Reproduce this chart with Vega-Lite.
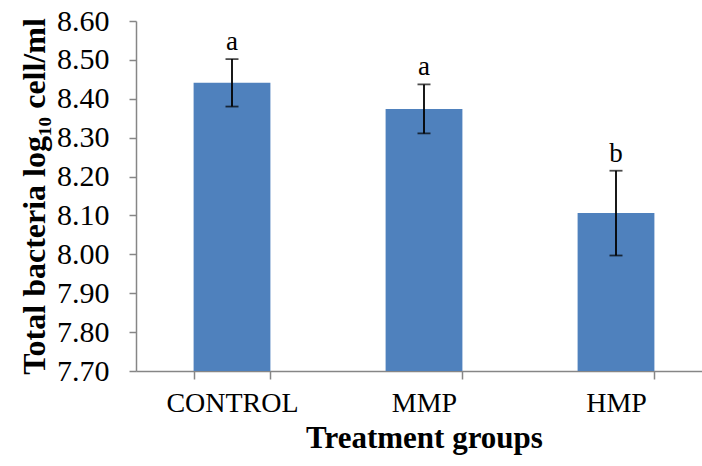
{
  "$schema": "https://vega.github.io/schema/vega-lite/v6.json",
  "autosize": {"type": "none"},
  "width": 566,
  "height": 350,
  "padding": {"left": 136, "top": 21, "right": 0, "bottom": 95},
  "background": "white",
  "config": {
    "font": "Liberation Serif",
    "view": {"stroke": null},
    "axis": {
      "domainColor": "#868686",
      "tickColor": "#868686",
      "labelColor": "#000000",
      "titleColor": "#000000",
      "labelFont": "Liberation Serif",
      "titleFont": "Liberation Serif",
      "grid": false
    },
    "axisY": {
      "labelFont": "Liberation Serif",
      "titleFont": "Liberation Serif",
      "titleFontSize": 32,
      "titleFontWeight": "bold",
      "titlePadding": 5,
      "labelFontSize": 30,
      "labelPadding": 20,
      "labelOverlap": false,
      "labelFlush": false,
      "labelBound": false,
      "tickSize": 7,
      "domainWidth": 1.5,
      "tickWidth": 1.5
    }
  },
  "data": {
    "values": [
      {"group": "CONTROL", "mean": 8.441, "lo": 8.380, "hi": 8.502, "letter": "a"},
      {"group": "MMP", "mean": 8.374, "lo": 8.311, "hi": 8.437, "letter": "a"},
      {"group": "HMP", "mean": 8.106, "lo": 7.997, "hi": 8.215, "letter": "b"}
    ]
  },
  "encoding": {
    "x": {
      "field": "group",
      "type": "nominal",
      "sort": ["CONTROL", "MMP", "HMP"],
      "scale": {"range": [0, 576], "paddingInner": 0.6, "paddingOuter": 0.3},
      "axis": {
        "title": "Treatment groups",
        "titleFontSize": 31,
        "titleFontWeight": "bold",
        "titlePadding": 6,
        "labelFontSize": 28,
        "labelAngle": 0,
        "labelPadding": 10,
        "tickSize": 8,
        "tickBand": "extent",
        "domainWidth": 1.5,
        "tickWidth": 1.5
      }
    }
  },
  "layer": [
    {
      "mark": {"type": "bar", "color": "#4F81BD"},
      "encoding": {
        "y": {
          "field": "mean",
          "type": "quantitative",
          "title": "Total bacteria log₁₀ cell/ml",
          "scale": {"domain": [7.7, 8.6], "zero": false, "nice": false},
          "axis": {"values": [7.7, 7.8, 7.9, 8.0, 8.1, 8.2, 8.3, 8.4, 8.5, 8.6], "format": ".2f"}
        },
        "y2": {"datum": 7.7}
      }
    },
    {
      "mark": {"type": "rule", "color": "#000000", "strokeWidth": 1.8},
      "encoding": {
        "y": {
          "field": "lo",
          "type": "quantitative",
          "title": "Total bacteria log₁₀ cell/ml",
          "axis": {"values": [7.7, 7.8, 7.9, 8.0, 8.1, 8.2, 8.3, 8.4, 8.5, 8.6], "format": ".2f"}
        },
        "y2": {"field": "hi"}
      }
    },
    {
      "mark": {"type": "tick", "color": "#000000", "size": 13, "thickness": 1.8},
      "encoding": {
        "y": {
          "field": "lo",
          "type": "quantitative",
          "title": "Total bacteria log₁₀ cell/ml",
          "axis": {"values": [7.7, 7.8, 7.9, 8.0, 8.1, 8.2, 8.3, 8.4, 8.5, 8.6], "format": ".2f"}
        }
      }
    },
    {
      "mark": {"type": "tick", "color": "#000000", "size": 13, "thickness": 1.8},
      "encoding": {
        "y": {
          "field": "hi",
          "type": "quantitative",
          "title": "Total bacteria log₁₀ cell/ml",
          "axis": {"values": [7.7, 7.8, 7.9, 8.0, 8.1, 8.2, 8.3, 8.4, 8.5, 8.6], "format": ".2f"}
        }
      }
    },
    {
      "mark": {"type": "text", "font": "Liberation Serif", "fontSize": 27, "baseline": "alphabetic", "dy": -9, "color": "#000000"},
      "encoding": {
        "y": {
          "field": "hi",
          "type": "quantitative",
          "title": "Total bacteria log₁₀ cell/ml",
          "axis": {"values": [7.7, 7.8, 7.9, 8.0, 8.1, 8.2, 8.3, 8.4, 8.5, 8.6], "format": ".2f"}
        },
        "text": {"field": "letter"}
      }
    }
  ]
}
